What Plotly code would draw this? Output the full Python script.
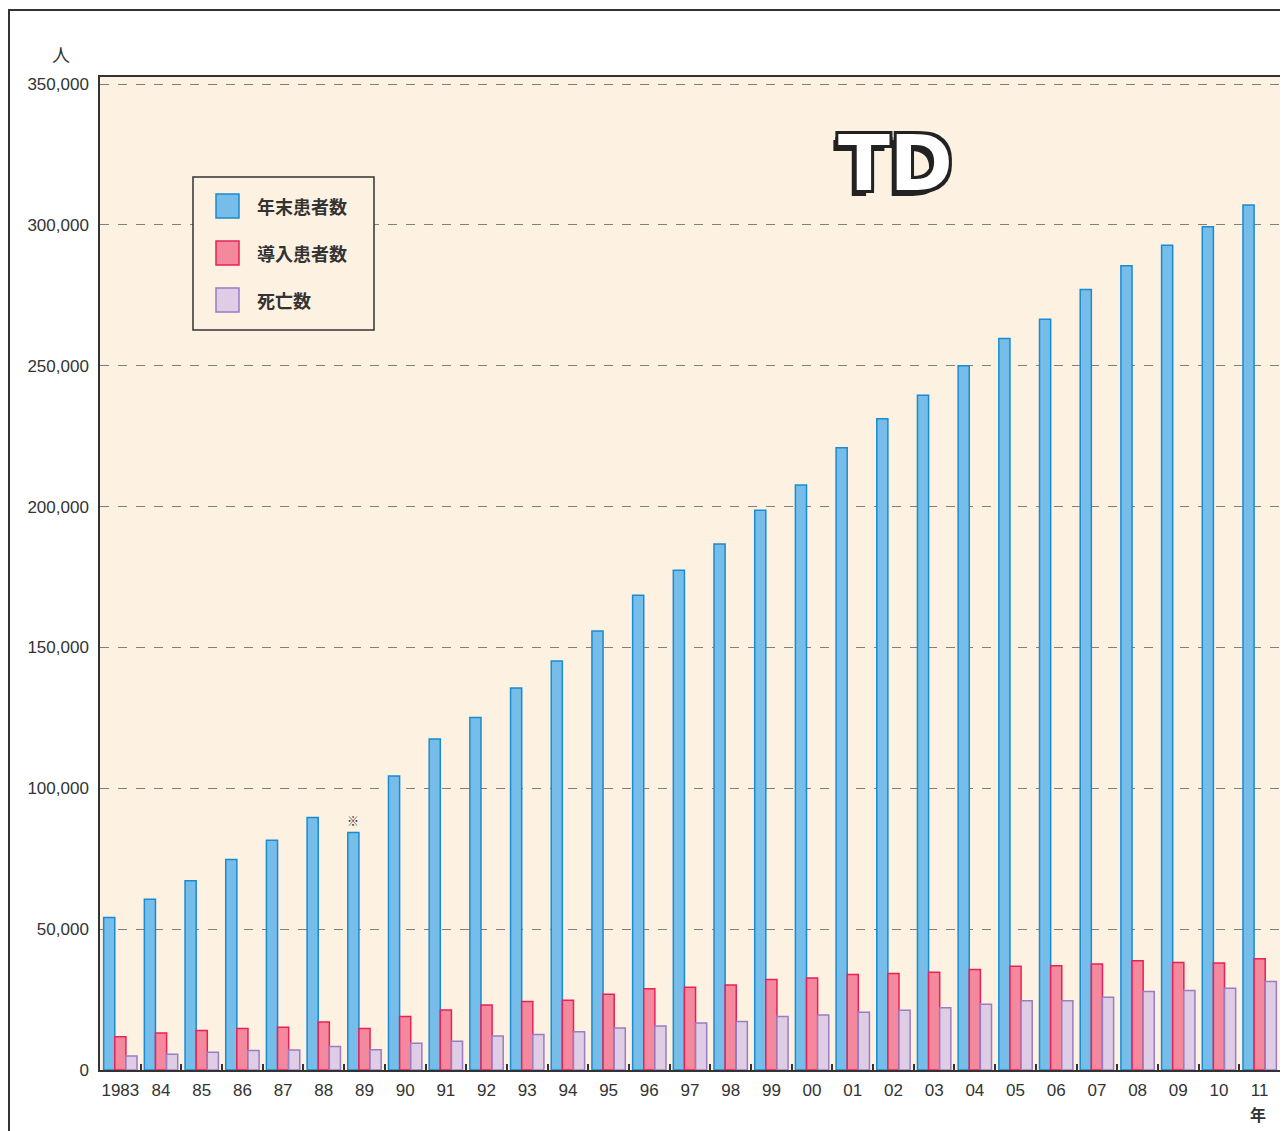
import plotly.graph_objects as go

years = ["1983", "84", "85", "86", "87", "88", "89", "90", "91", "92", "93", "94", "95", "96",
         "97", "98", "99", "00", "01", "02", "03", "04", "05", "06", "07", "08", "09", "10", "11"]

series_names = ["年末患者数", "導入患者数", "死亡数"]

patients_year_end = [54100, 60600, 67200, 74700, 81600, 89600, 84300, 104400, 117500, 125100,
                     135600, 145200, 155800, 168500, 177400, 186700, 198700, 207700, 220900,
                     231200, 239500, 250000, 259700, 266500, 277100, 285500, 292800, 299300, 307100]

patients_new = [11800, 13100, 14000, 14700, 15200, 17000, 14700, 19000, 21300, 23100,
                24300, 24800, 26900, 28800, 29400, 30200, 32100, 32700, 33900,
                34300, 34700, 35700, 36800, 37000, 37600, 38800, 38200, 38000, 39500]

deaths = [5000, 5600, 6300, 6900, 7100, 8300, 7200, 9500, 10200, 12100,
          12600, 13600, 14900, 15600, 16700, 17200, 19000, 19500, 20500,
          21200, 22100, 23300, 24600, 24600, 25800, 27900, 28200, 29000, 31400]

y_ticks = [0, 50000, 100000, 150000, 200000, 250000, 300000, 350000]
y_max = 352500

fills = ["#76bee9", "#f4889c", "#decde5"]
lines = ["#1a8bd0", "#e8215a", "#9a7cc2"]

OFF = 8  # page body margin offset
W, H = 1288 - OFF, 1131 - OFF
L, R, T, B = 100 - OFF, 1280 - OFF, 77 - OFF, 1070 - OFF

def px(x):
    return (x - OFF - L) / (R - L)

def py(y):
    return (B - (y - OFF)) / (B - T)

fig = go.Figure()
for name, vals, f, lc in zip(series_names, [patients_year_end, patients_new, deaths], fills, lines):
    fig.add_trace(go.Bar(x=years, y=vals, name=name, marker=dict(color=f, line=dict(color=lc, width=1.5)),
                         showlegend=False))

shapes = []
annotations = []

# outer frame
shapes.append(dict(type="rect", xref="paper", yref="paper", x0=px(9), x1=px(1300), y0=py(1145), y1=py(10),
                   line=dict(color="#333333", width=2), fillcolor="rgba(0,0,0,0)", layer="below"))

# legend box
shapes.append(dict(type="rect", xref="paper", yref="paper", x0=px(193), x1=px(374), y0=py(330), y1=py(177),
                   line=dict(color="#333333", width=1.5), fillcolor="#fdf1e1"))
row_y = [206, 253, 300]
for name, f, lc, yy in zip(series_names, fills, lines, row_y):
    shapes.append(dict(type="rect", xref="paper", yref="paper", x0=px(216), x1=px(239),
                       y0=py(yy + 12), y1=py(yy - 12), line=dict(color=lc, width=1.5), fillcolor=f))
    annotations.append(dict(xref="paper", yref="paper", x=px(255), y=py(yy), text="<b>" + name + "</b>",
                            showarrow=False, xanchor="left", yanchor="middle",
                            font=dict(family="Noto Sans CJK JP", size=18, color="#333333")))

# unit labels
annotations.append(dict(xref="paper", yref="paper", x=px(61), y=py(54), text="人", showarrow=False,
                        xanchor="center", yanchor="middle",
                        font=dict(family="Noto Sans CJK JP", size=18, color="#333333")))
annotations.append(dict(xref="paper", yref="paper", x=px(1258), y=py(1114), text="<b>年</b>", showarrow=False,
                        xanchor="center", yanchor="middle",
                        font=dict(family="Noto Sans CJK JP", size=16, color="#333333")))
# note mark on 1989 (category index 6)
annotations.append(dict(x=6, y=patients_year_end[6], xref="x", yref="y", text="※", showarrow=False,
                        xanchor="center", yanchor="bottom", xshift=-11, yshift=2,
                        font=dict(family="Noto Sans CJK JP", size=12, color="#333333")))
# logo approximation
annotations.append(dict(xref="paper", yref="paper", x=px(895), y=py(163), text="<b>TD</b>", showarrow=False,
                        xanchor="center", yanchor="middle",
                        font=dict(family="DejaVu Sans", size=76, color="#ffffff",
                                  shadow="-3px -3px 0 #222, 3px -3px 0 #222, -3px 3px 0 #222, 3px 3px 0 #222, -5px 6px 0 #222")))

fig.update_layout(
    width=W, height=H,
    margin=dict(l=L, r=W - R, t=T, b=H - B, autoexpand=False),
    paper_bgcolor="#ffffff",
    plot_bgcolor="#fdf1e1",
    barmode="group",
    bargap=0.18,
    bargroupgap=0,
    shapes=shapes,
    annotations=annotations,
    font=dict(family="Liberation Sans", size=17, color="#333333"),
)
fig.update_xaxes(type="category", range=[-0.5, len(years) - 0.5], showline=True, linecolor="#333333",
                 linewidth=2, mirror=True, tickangle=0, ticklabelstandoff=4,
                 ticks="inside", tickson="boundaries", ticklen=6, tickwidth=1.5, tickcolor="#333333",
                 showgrid=False, tickfont=dict(family="Liberation Sans", size=17, color="#333333"))
fig.update_yaxes(range=[0, y_max], tickvals=y_ticks, tickformat=",", showline=True, linecolor="#333333",
                 linewidth=1.5, mirror=True, showgrid=True, gridcolor="#7f7f7f", griddash="dash", gridwidth=1,
                 zeroline=False, ticks="", ticklabelstandoff=6,
                 tickfont=dict(family="Liberation Sans", size=17, color="#333333"))

fig.write_html("out.html")
